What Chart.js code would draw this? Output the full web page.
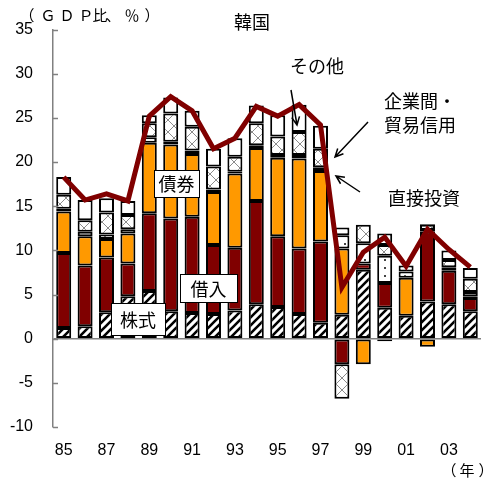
<!DOCTYPE html>
<html>
<head>
<meta charset="utf-8">
<script src="https://cdn.jsdelivr.net/npm/chart.js@4.4.1/dist/chart.umd.min.js"></script>
<style>
  html, body { margin: 0; padding: 0; background: #fff; }
  #wrap { width: 489px; height: 485px; }
</style>
</head>
<body>
<div id="wrap"><canvas id="myChart" width="489" height="485"></canvas></div>
<script>
// years 1985-2004
const years = ['85','86','87','88','89','90','91','92','93','94','95','96','97','98','99','00','01','02','03','04'];

// GDP比 (%)
const stock  = [1.2, 1.4, 3.0, 4.8, 5.4, 3.1, 2.9, 2.8, 3.2, 3.9, 3.6, 2.8, 1.8, 2.7, 7.8, 3.5, 2.6, 4.2, 3.9, 3.1];
const loans  = [8.5, 6.9, 6.2, 3.7, 8.8, 10.5, 10.9, 7.8, 7.1, 11.7, 8.0, 7.4, 9.2, -2.9, 0.7, 2.8, 0, 7.9, 3.8, 1.5];
const bonds  = [4.7, 3.3, 2.1, 3.4, 8.0, 8.4, 7.1, 6.0, 8.4, 6.0, 8.9, 10.2, 8.0, 7.5, -2.9, -0.3, 4.3, -0.9, 0, 0.2];
const fdi    = [0.3, 0.5, 0.5, 0.5, 0.6, 0.3, 0.4, 0.3, 0.2, 0.3, 0.3, 0.4, 0.4, 1.5, 2.3, 3.1, 0.7, 0.2, 0.4, 0.5];
const trade  = [1.6, 1.3, 2.5, 1.6, 1.6, 3.2, 2.7, 2.6, 1.7, 2.5, 2.1, 2.6, 2.1, -3.9, 2.1, 1.2, 0, 0.6, 0.8, 1.5];
const other  = [2.0, 2.3, 1.6, 1.6, 0.9, 1.8, 1.8, 2.0, 2.1, 2.0, 2.4, 3.1, 2.6, 0.9, 0, 1.3, 0.7, 0.1, 1.1, 1.2];
const total  = [18.3, 15.7, 16.4, 15.6, 25.2, 27.4, 25.8, 21.5, 22.7, 26.3, 25.2, 26.5, 24.2, 5.8, 9.8, 11.5, 8.2, 12.4, 10.1, 8.1];

const yTicks = [-10, -5, 0, 5, 10, 15, 20, 25, 30, 35];

const JP = '"Noto Sans CJK JP", sans-serif';
const NUM = '"Liberation Sans", Arial, sans-serif';

function makePattern(w, h, draw) {
    const c = document.createElement('canvas');
    c.width = w; c.height = h;
    const g = c.getContext('2d');
    g.fillStyle = '#fff';
    g.fillRect(0, 0, w, h);
    draw(g);
    return g.createPattern(c, 'repeat');
}

// 株式: thick diagonal stripes
const hatch = makePattern(8, 8, g => {
    g.strokeStyle = '#000';
    g.lineWidth = 2.6;
    g.beginPath();
    g.moveTo(-1, 9); g.lineTo(9, -1);
    g.moveTo(-1, 1); g.lineTo(1, -1);
    g.moveTo(7, 9); g.lineTo(9, 7);
    g.stroke();
});
// 企業間・貿易信用: light cross hatch
const cross = makePattern(12, 12, g => {
    g.strokeStyle = '#8c8c8c';
    g.lineWidth = 1;
    g.beginPath();
    g.moveTo(0, 0); g.lineTo(12, 12);
    g.moveTo(0, 12); g.lineTo(12, 0);
    g.stroke();
});
// 直接投資: sparse dots
const dots = makePattern(10, 8, g => {
    g.fillStyle = '#444';
    g.fillRect(4, 3, 2, 2);
});

function barSet(label, data, bg) {
    return {
        type: 'bar',
        label: label,
        data: data,
        backgroundColor: bg,
        borderColor: '#000',
        borderWidth: 2,
        borderSkipped: false,
        stack: 'flows',
        order: 1,
        barPercentage: 0.7,
        categoryPercentage: 1.0
    };
}

function arrow(ctx, x1, y1, x2, y2) {
    const a = Math.atan2(y2 - y1, x2 - x1);
    const hl = 9;
    ctx.beginPath();
    ctx.moveTo(x1, y1);
    ctx.lineTo(x2, y2);
    ctx.moveTo(x2 - hl * Math.cos(a - 0.45), y2 - hl * Math.sin(a - 0.45));
    ctx.lineTo(x2, y2);
    ctx.lineTo(x2 - hl * Math.cos(a + 0.45), y2 - hl * Math.sin(a + 0.45));
    ctx.stroke();
}

function boxLabel(ctx, text, x, y, w, h) {
    ctx.fillStyle = '#fff';
    ctx.fillRect(x, y, w, h);
    ctx.strokeStyle = '#000';
    ctx.lineWidth = 1;
    ctx.strokeRect(x + 0.5, y + 0.5, w, h);
    ctx.fillStyle = '#000';
    ctx.textAlign = 'center';
    ctx.textBaseline = 'middle';
    ctx.fillText(text, x + w / 2, y + h / 2 + 1);
}

// loosely spaced characters, one centre per character
function spaced(ctx, chars, centres, y) {
    ctx.textAlign = 'center';
    chars.forEach((ch, i) => ctx.fillText(ch, centres[i], y));
}

const decorations = {
    id: 'decorations',
    afterDraw(chart) {
        const ctx = chart.ctx;
        const y = chart.scales.y;
        const left = chart.chartArea.left;
        ctx.save();
        // inward tick marks
        ctx.strokeStyle = '#808080';
        ctx.lineWidth = 1.5;
        yTicks.forEach(v => {
            const py = Math.round(y.getPixelForValue(v)) + 0.5;
            ctx.beginPath();
            ctx.moveTo(left, py);
            ctx.lineTo(left + 5, py);
            ctx.stroke();
        });

        ctx.fillStyle = '#000';
        ctx.font = '15px ' + JP;
        ctx.textBaseline = 'middle';
        spaced(ctx, ['（', 'Ｇ', 'Ｄ', 'Ｐ', '比', '、', '％', '）'],
               [27, 48, 67, 86, 100, 113, 132, 152], 15);
        spaced(ctx, ['（', '年', '）'], [449, 467, 486], 470);

        ctx.font = '18px ' + JP;
        ctx.textAlign = 'center';
        ctx.fillText('韓国', 252, 22);
        ctx.fillText('その他', 317, 66);
        ctx.textAlign = 'left';
        ctx.fillText('企業間・', 384, 101);
        ctx.fillText('貿易信用', 384, 125);
        ctx.fillText('直接投資', 388, 198);

        ctx.strokeStyle = '#000';
        ctx.lineWidth = 1.5;
        arrow(ctx, 291, 90, 297, 125);
        arrow(ctx, 368, 122, 335, 157);
        arrow(ctx, 360, 192, 336, 176);

        ctx.font = '18px ' + JP;
        boxLabel(ctx, '債券', 154, 170, 45, 27);
        boxLabel(ctx, '借入', 180, 274, 57, 28);
        boxLabel(ctx, '株式', 111, 303, 54, 32);
        ctx.restore();
    }
};

new Chart(document.getElementById('myChart'), {
    data: {
        labels: years,
        datasets: [
            {
                type: 'line',
                label: '合計',
                data: total,
                borderColor: '#800000',
                borderWidth: 5,
                pointRadius: 0,
                tension: 0,
                fill: false,
                stack: 'line',
                order: 0
            },
            barSet('株式', stock, hatch),
            barSet('借入', loans, '#800000'),
            barSet('債券', bonds, '#ff9900'),
            barSet('直接投資', fdi, dots),
            barSet('企業間・貿易信用', trade, cross),
            barSet('その他', other, '#ffffff')
        ]
    },
    options: {
        responsive: false,
        animation: false,
        layout: { padding: { top: 27, right: 8, left: 0, bottom: 0 } },
        plugins: {
            legend: { display: false },
            tooltip: { enabled: false }
        },
        scales: {
            x: {
                stacked: true,
                grid: { display: false, drawTicks: false },
                border: { display: false },
                ticks: {
                    autoSkip: false,
                    maxRotation: 0,
                    padding: 14,
                    color: '#000',
                    font: { family: NUM, size: 16 },
                    callback: (v, i) => (i % 2 === 0 ? years[i] : '')
                },
                afterFit: s => { s.height = 58; }
            },
            y: {
                stacked: true,
                min: -10,
                max: 35,
                grid: {
                    drawTicks: false,
                    lineWidth: 1.5,
                    color: c => (c.tick && c.tick.value === 0 ? '#808080' : 'rgba(0,0,0,0)')
                },
                border: { display: true, color: '#808080', width: 1.5 },
                ticks: {
                    stepSize: 5,
                    padding: 20,
                    color: '#000',
                    font: { family: NUM, size: 16 }
                },
                afterFit: s => { s.width = 53; }
            }
        }
    },
    plugins: [decorations]
});
</script>
</body>
</html>
